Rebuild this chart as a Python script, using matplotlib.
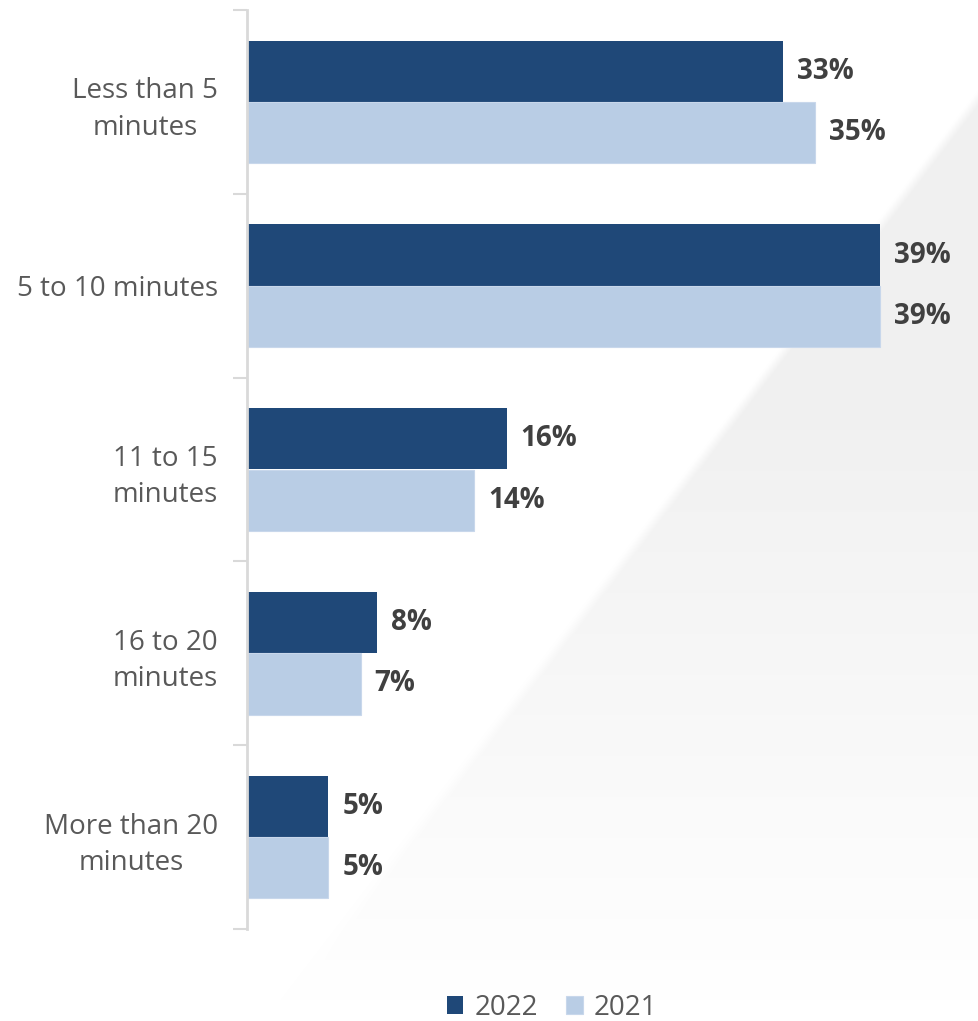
import numpy as np
from matplotlib import pyplot as plt
from matplotlib.ticker import FixedLocator

categories = ['Less than 5\nminutes', '5 to 10 minutes', '11 to 15\nminutes',
              '16 to 20\nminutes', 'More than 20\nminutes']
values_2022 = [33, 39, 16, 8, 5]
values_2021 = [35, 39, 14, 7, 5]
series_names = ['2022', '2021']

col_dark = '#1F4878'
col_light = '#B9CDE5'
txt_gray = '#595959'
lbl_gray = '#404040'

plt.rcParams['font.family'] = ['Open Sans', 'DejaVu Sans']

W, H = 979, 1021
fig = plt.figure(figsize=(W / 100, H / 100), dpi=100)

# fond: bande grise diagonale qui s'estompe vers le bas a gauche
bg = fig.add_axes([0, 0, 1, 1])
yy, xx = np.mgrid[0:H, 0:W]
x_line = 979 - (yy - 97) * (692 / 903)
edge = np.clip((xx - x_line) / 12 + 0.5, 0, 1)
s = np.clip((1000 - yy) / 903, 0, 1)
alpha = np.clip(s * 1.5, 0, 1) * edge
gray = 1 - 0.058 * alpha
img = np.dstack([gray, gray, gray])
bg.imshow(img, extent=[0, W, H, 0], aspect='auto', interpolation='bilinear')
bg.set_xlim(0, W)
bg.set_ylim(H, 0)
bg.axis('off')

ax = fig.add_axes([247 / W, 1 - 929 / H, 1 - 247 / W, (929 - 10) / H])
ax.patch.set_alpha(0)

y = np.arange(len(categories))
h = 0.333
b1 = ax.barh(y - h / 2, values_2022, height=h, color=col_dark, label=series_names[0])
b2 = ax.barh(y + h / 2, values_2021, height=h, color=col_light,
             edgecolor='#C8D7EB', linewidth=0.8, label=series_names[1])

for bars in (b1, b2):
    for rect in bars:
        v = rect.get_width()
        ax.annotate(f'{v:.0f}%', (v, rect.get_y() + rect.get_height() / 2),
                    xytext=(14, 0), textcoords='offset pixels',
                    va='center', ha='left', fontsize=20, fontweight='bold', color=lbl_gray)

ax.set_xlim(0, (W - 247) / 16.23)
ax.set_ylim(len(categories) - 0.5, -0.5)
ax.set_yticks(y)
ax.set_yticklabels(categories, fontsize=20, color=txt_gray, linespacing=1.4,
                   multialignment='center')
ax.yaxis.set_minor_locator(FixedLocator(np.arange(-0.5, len(categories), 1)))
ax.tick_params(axis='y', which='major', length=0, pad=21)
ax.tick_params(axis='y', which='minor', length=10, width=1.5, color='#D9D9D9')
ax.set_xticks([])
for sp in ['top', 'right', 'bottom']:
    ax.spines[sp].set_visible(False)
ax.spines['left'].set_color('#D9D9D9')
ax.spines['left'].set_linewidth(2)

leg = fig.legend(handles=[b1, b2], labels=series_names, loc='center',
                 bbox_to_anchor=(552 / W, 1 - 1008 / H), ncol=2, frameon=False,
                 fontsize=20, handlelength=0.6, handleheight=0.6,
                 handletextpad=0.4, columnspacing=1.0)
for t in leg.get_texts():
    t.set_color(txt_gray)

fig.savefig('out.png', dpi=100)
